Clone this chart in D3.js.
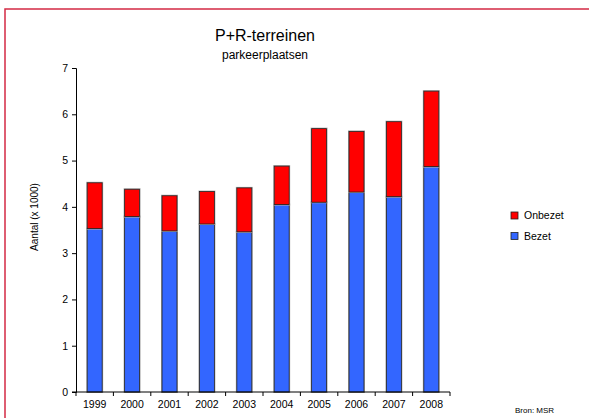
<!DOCTYPE html>
<html>
<head>
<meta charset="utf-8">
<script src="https://cdn.jsdelivr.net/npm/d3@7"></script>
<style>
  body { margin: 0; background: #fff; }
  text { font-family: "Liberation Sans", Arial, sans-serif; fill: #000; }
</style>
</head>
<body>
<svg width="589" height="418"></svg>
<script>
// data
const years = ["1999", "2000", "2001", "2002", "2003", "2004", "2005", "2006", "2007", "2008"];
const bezet = [3.53, 3.79, 3.48, 3.63, 3.46, 4.05, 4.10, 4.32, 4.22, 4.87];
const onbezet = [0.99, 0.59, 0.76, 0.70, 0.95, 0.83, 1.59, 1.31, 1.62, 1.63];
const yTicks = [0, 1, 2, 3, 4, 5, 6, 7];
const seriesNames = ["Onbezet", "Bezet"];
const colors = { Bezet: "#3366ff", Onbezet: "#ff0000" };

let svg = d3.select("svg");

// frame
svg.append("rect")
  .attr("x", 5).attr("y", 9)
  .attr("width", 600).attr("height", 420)
  .attr("fill", "none")
  .attr("stroke", "#d42a44")
  .attr("stroke-width", 1.5);

let margin = { left: 76, right: 450, top: 68, bottom: 392 };

let x = d3.scaleBand()
  .domain(years)
  .range([margin.left, margin.right])
  .paddingInner(0.6)
  .paddingOuter(0.3);

let y = d3.scaleLinear()
  .domain([0, 7])
  .range([margin.bottom, margin.top]);

let rows = years.map((yr, i) => ({ year: yr, Bezet: bezet[i], Onbezet: onbezet[i] }));
let stacked = d3.stack().keys(["Bezet", "Onbezet"])(rows);

let layer = svg.append("g").selectAll("g")
  .data(stacked)
  .enter().append("g")
  .attr("fill", d => colors[d.key]);

// light shadow outline
layer.selectAll("rect.shadow")
  .data(d => d)
  .enter().append("rect")
  .attr("class", "shadow")
  .attr("x", d => x(d.data.year) - 0.5)
  .attr("y", d => y(d[1]) - 0.5)
  .attr("width", x.bandwidth() + 1)
  .attr("height", d => y(d[0]) - y(d[1]) + 1)
  .attr("fill", "none")
  .attr("stroke", "#aaa")
  .attr("stroke-width", 1);

layer.selectAll("rect.bar")
  .data(d => d)
  .enter().append("rect")
  .attr("class", "bar")
  .attr("x", d => x(d.data.year))
  .attr("y", d => y(d[1]))
  .attr("width", x.bandwidth())
  .attr("height", d => y(d[0]) - y(d[1]))
  .attr("stroke", "#222")
  .attr("stroke-width", 0.8);

// y axis
let yAxis = svg.append("g")
  .attr("transform", `translate(${margin.left},0)`)
  .call(d3.axisLeft(y).tickValues(yTicks).tickFormat(d3.format("d")).tickSize(4).tickPadding(4));
yAxis.select(".domain").attr("stroke", "#000");
yAxis.selectAll("text").style("font-size", "10.5px");

// x axis with ticks between categories
let xAxis = svg.append("g")
  .attr("transform", `translate(0,${margin.bottom})`);
xAxis.append("line")
  .attr("x1", margin.left - 4).attr("x2", margin.right)
  .attr("stroke", "#000");
let bounds = d3.range(years.length + 1).map(i => margin.left + i * (margin.right - margin.left) / years.length);
xAxis.selectAll("line.tick")
  .data(bounds)
  .enter().append("line")
  .attr("class", "tick")
  .attr("x1", d => d).attr("x2", d => d)
  .attr("y1", 0).attr("y2", 4)
  .attr("stroke", "#000");
xAxis.selectAll("text")
  .data(years)
  .enter().append("text")
  .attr("x", d => x(d) + x.bandwidth() / 2)
  .attr("y", 16)
  .attr("text-anchor", "middle")
  .style("font-size", "10.5px")
  .text(d => d);

// titles
svg.append("text")
  .attr("x", 265).attr("y", 41)
  .attr("text-anchor", "middle")
  .style("font-size", "16px")
  .text("P+R-terreinen");
svg.append("text")
  .attr("x", 265).attr("y", 59)
  .attr("text-anchor", "middle")
  .style("font-size", "12px")
  .text("parkeerplaatsen");

svg.append("text")
  .attr("transform", "translate(38,217) rotate(-90)")
  .attr("text-anchor", "middle")
  .style("font-size", "10px")
  .text("Aantal (x 1000)");

// legend
let legend = svg.append("g").selectAll("g")
  .data(seriesNames)
  .enter().append("g")
  .attr("transform", (d, i) => `translate(511,${212 + i * 20.5})`);
legend.append("rect")
  .attr("width", 7).attr("height", 7)
  .attr("fill", d => colors[d])
  .attr("stroke", "#222").attr("stroke-width", 0.8);
legend.append("text")
  .attr("x", 13).attr("y", 7)
  .style("font-size", "10.5px")
  .text(d => d);

svg.append("text")
  .attr("x", 515).attr("y", 413)
  .style("font-size", "8px")
  .text("Bron: MSR");
</script>
</body>
</html>
